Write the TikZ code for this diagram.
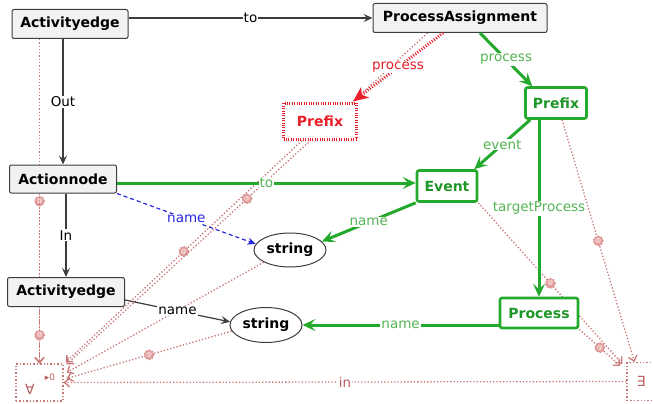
\documentclass[tikz,border=0pt]{standalone}
\usepackage{fontspec}
\setmainfont{DejaVu Sans}
\usetikzlibrary{arrows.meta,shapes.geometric,calc}
\definecolor{gline}{RGB}{35,170,45}
\definecolor{gtext}{RGB}{30,150,40}
\definecolor{glab}{RGB}{85,180,85}
\definecolor{rline}{RGB}{232,30,40}
\definecolor{qcol}{RGB}{200,120,120}
\definecolor{qtext}{RGB}{185,95,95}
\definecolor{bline}{RGB}{40,40,225}
\definecolor{nfill}{RGB}{242,242,242}
\definecolor{ndraw}{RGB}{60,60,60}
\definecolor{mfill}{RGB}{228,158,158}
\pgfdeclarelayer{background}
\pgfsetlayers{background,main}
\begin{document}
\begin{tikzpicture}[x=1pt,y=-1pt,
  nodefont/.style={font=\bfseries\fontsize{14}{16}\selectfont},
  bnode/.style={nodefont,draw=ndraw,fill=nfill,line width=1pt,rounded corners=2pt,inner sep=2pt},
  gnode/.style={nodefont,draw=gline,fill=white,text=gtext,line width=2.6pt,rounded corners=2pt,inner sep=2pt},
  rnode/.style={nodefont,draw=rline,fill=white,text=rline,line width=3pt,dash pattern=on 1pt off 1.4pt,inner sep=2pt},
  snode/.style={nodefont,ellipse,draw=ndraw,fill=white,line width=1pt,inner sep=1pt},
  qbox/.style={draw=qcol,line width=1.2pt,dash pattern=on 1.4pt off 2pt,fill=white},
  lab/.style={font=\fontsize{13.5}{15}\selectfont,fill=white,inner sep=1pt},
  blackedge/.style={draw=ndraw,line width=1.2pt,-{Stealth[length=9pt,width=8pt,inset=3.5pt]}},
  greenedge/.style={draw=gline,line width=3pt,-{Stealth[length=13pt,width=12pt,inset=5.5pt]}},
  rededge/.style={draw=rline,line width=3pt,dash pattern=on 1pt off 1.6pt,-{Stealth[length=15pt,width=13pt,inset=4pt]}},
  blueedge/.style={draw=bline,line width=1.2pt,dash pattern=on 4pt off 3pt,-{Stealth[length=8pt,width=7pt,inset=2pt]}},
  qline/.style={draw=qcol,line width=1.3pt,dash pattern=on 1.3pt off 2pt,-{Straight Barb[length=5pt,width=9pt]}},
  amark/.style={circle,fill=mfill,draw=qcol,line width=0.6pt,inner sep=0pt,minimum size=10pt,text=white,font=\fontsize{6}{6}\selectfont}]
\useasboundingbox (0,0) rectangle (653,404);

% class nodes
\node[bnode,minimum width=116pt,minimum height=29pt] (ae1) at (70,24) {Activityedge};
\node[bnode,minimum width=174pt,minimum height=29pt] (pa) at (460,18) {ProcessAssignment};
\node[rnode,minimum width=73pt,minimum height=36pt] (rp) at (320,121) {Prefix};
\node[gnode,minimum width=61pt,minimum height=31pt] (gp) at (556,103) {Prefix};
\node[bnode,minimum width=107pt,minimum height=28pt] (an) at (63,179) {Actionnode};
\node[gnode,minimum width=60pt,minimum height=31pt] (ev) at (447,186) {Event};
\node[snode,minimum width=72pt,minimum height=34pt] (s1) at (290,250) {string};
\node[bnode,minimum width=117pt,minimum height=29pt] (ae2) at (66,292) {Activityedge};
\node[snode,minimum width=72pt,minimum height=35pt] (s2) at (266,325) {string};
\node[gnode,minimum width=78pt,minimum height=30pt] (pr) at (539,313) {Process};

% quantifier boxes
\begin{pgfonlayer}{background}
\node[qbox,minimum width=47pt,minimum height=37pt] (fa) at (39.5,382.5) {};
\node[qbox,minimum width=56pt,minimum height=38pt] (ex) at (655,381.5) {};
\end{pgfonlayer}
\node[text=qtext,font=\fontsize{14}{14}\selectfont,inner sep=0pt] (fasym) at (30,389) {∀};
\node[text=qtext,font=\fontsize{9}{9}\selectfont,inner sep=0pt] (falev) at (50,377) {▸0};
\node[text=qtext,font=\fontsize{14}{14}\selectfont,inner sep=0pt] (exsym) at (641,381) {∃};

% quantifier bindings
\begin{pgfonlayer}{background}
\draw[qline] (ae1.south -| fa.north) -- node[amark]{@} (fa.north);
\draw[qline] (an.south -| fa.north) -- (fa.north);
\draw[qline] (ae2.south -| fa.north) -- node[amark]{@} (fa.north);
\draw[qline] ($(rp.south west)+(20,0)$) -- node[amark]{@} ($(fa.north east)+(2,-1)$);
\draw[qline] ($(pa.south west)+(55,0)$) -- node[amark]{@} ($(fa.north east)+(3,1)$);
\draw[qline] (s1.205) -- ($(fa.east)+(3,-10)$);
\draw[qline] (s2.190) -- node[amark]{@} ($(fa.east)+(3,-4)$);
\draw[qline] ($(gp.south)+(6,0)$) -- node[amark]{@} ($(ex.north west)+(8,0)$);
\draw[qline] (ev.south east) -- node[amark]{@} ($(ex.north west)+(-4,2)$);
\draw[qline] (pr.south east) -- node[amark]{@} ($(ex.north west)+(-6,4)$);
\end{pgfonlayer}
\draw[qline] (ex.west) -- node[lab,text=qtext]{in} (fa.east);

% references
\draw[blackedge] (ae1.east |- pa.west) -- node[lab]{to} (pa.west);
\draw[blackedge] (an.north |- ae1.south) -- node[lab]{Out} (an.north);
\draw[blackedge] (ae2.north |- an.south) -- node[lab]{In} (ae2.north);
\draw[blackedge] ($(ae2.east)+(0,8)$) -- node[lab]{name} (s2.175);
\draw[blueedge] (an.south east) -- node[lab,text=bline]{name} (s1.170);
\draw[greenedge] (an.east |- 0,183) -- node[lab,text=glab]{to} (ev.west |- 0,183);
\draw[greenedge] ($(pa.south)+(20,0)$) -- node[lab,text=glab]{process} ($(gp.north west)+(8,0)$);
\draw[greenedge] ($(gp.south west)+(6,0)$) -- node[lab,text=glab]{event} ($(ev.north east)+(-4,0)$);
\draw[greenedge] (gp.south -| pr.north) -- node[lab,text=glab]{targetProcess} (pr.north);
\draw[greenedge] (pr.west |- s2.east) -- node[lab,text=glab]{name} (s2.east);
\draw[greenedge] (ev.south west) -- node[lab,text=glab]{name} (s1.15);
\draw[rededge] ($(pa.south)+(-17,0)$) -- node[lab,text=rline]{process} ($(rp.north east)+(-5,0)$);
\end{tikzpicture}
\end{document}
